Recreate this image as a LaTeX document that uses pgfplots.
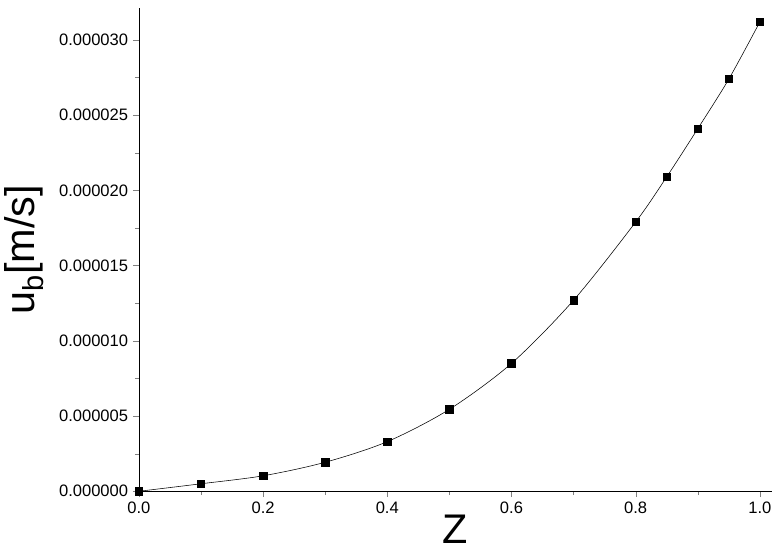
\documentclass[border=0pt]{standalone}
\usepackage{pgfplots}
\pgfplotsset{compat=1.18}
\usepackage{fontspec}
\setmainfont{Liberation Sans}
\begin{document}
\begin{tikzpicture}
\begin{axis}[
  width=459pt, height=350pt, scale only axis,
  axis lines*=left,
  xmin=0, xmax=1.02, ymin=0, ymax=32.1e-6,
  xtick={0,0.2,...,1.0}, minor x tick num=1,
  ytick={0,5e-6,10e-6,15e-6,20e-6,25e-6,30e-6}, minor y tick num=1,
  tick align=outside, tick pos=left,
  scaled y ticks=false, scaled x ticks=false,
  /pgf/number format/assume math mode=true,
  yticklabel style={/pgf/number format/.cd, fixed, fixed zerofill, precision=6},
  xticklabel style={/pgf/number format/.cd, fixed, fixed zerofill, precision=1},
  ticklabel style={font=\fontsize{12}{14}\selectfont},
  xlabel={\fontsize{30}{32}\selectfont Z\rule[-4pt]{0pt}{4pt}},
  ylabel={\fontsize{30}{32}\selectfont u$_\mathrm{b}$[m/s]},
  xlabel style={yshift=6pt},
  ylabel style={yshift=4pt},
  clip=false,
]
\addplot[black, thin, smooth] coordinates {(0,0) (0.1,0.5e-6) (0.2,1.03e-6) (0.3,1.93e-6) (0.4,3.3e-6) (0.5,5.45e-6) (0.6,8.5e-6) (0.7,12.7e-6) (0.8,17.9e-6) (0.85,20.9e-6) (0.9,24.1e-6) (0.95,27.4e-6) (1.0,31.2e-6)};
\addplot[only marks, mark=square*, mark size=2.7pt, black] coordinates {(0,0) (0.1,0.5e-6) (0.2,1.03e-6) (0.3,1.93e-6) (0.4,3.3e-6) (0.5,5.45e-6) (0.6,8.5e-6) (0.7,12.7e-6) (0.8,17.9e-6) (0.85,20.9e-6) (0.9,24.1e-6) (0.95,27.4e-6) (1.0,31.2e-6)};
\end{axis}
\path (current axis.north) ++(0,6pt) coordinate (topmargin);
\end{tikzpicture}
\end{document}
